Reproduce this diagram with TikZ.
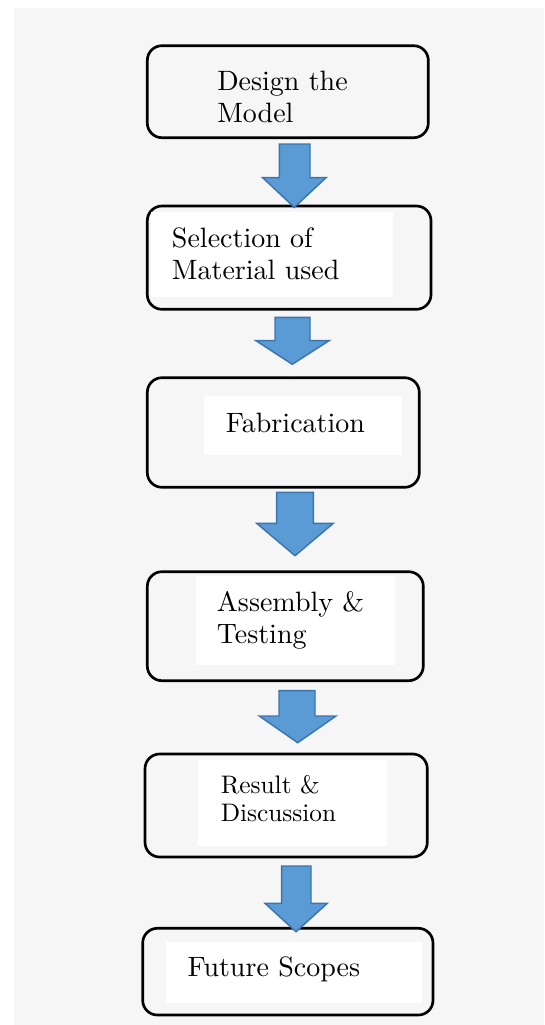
\documentclass[tikz,border=0pt]{standalone}
\usepackage{fontspec}
\setmainfont{lmroman10-regular}[Extension=.otf]
\usepackage{xcolor}
\usetikzlibrary{positioning}

\definecolor{pagegray}{RGB}{246,246,246}
\definecolor{arrowfill}{RGB}{91,155,213}
\definecolor{arrowline}{RGB}{58,117,176}

\tikzset{
  flowbox/.style={draw=black, line width=2pt, rounded corners=11pt},
  textpatch/.style={fill=white, draw=none},
  blockarrow/.style={fill=arrowfill, draw=arrowline, line width=1.1pt, line join=miter},
  steptext/.style={inner sep=0pt, align=left, anchor=base west, font={\fontsize{21}{24}\selectfont}},
  smalltext/.style={steptext, font={\fontsize{19}{21.3}\selectfont}}
}

\begin{document}
\begin{tikzpicture}[x=0.75pt,y=0.75pt,yscale=-1,xscale=1]
	\useasboundingbox (0,0) rectangle (544,1025);
	%Shape: Page background
	\fill[white] (0,0) rectangle (544,1025);
	\fill[pagegray] (14,8) rectangle (544,1025);
	
	%Rounded Rect [design]
	\draw[flowbox] (147.3,45.7) rectangle (428.3,137.7);
	%Rounded Rect [selection]
	\draw[flowbox] (147.3,206) rectangle (431,309.3);
	\fill[textpatch] (150.7,211.7) rectangle (393.3,296.7);
	%Rounded Rect [fabrication]
	\draw[flowbox] (147.3,377.7) rectangle (419.3,487.3);
	\fill[textpatch] (204,396) rectangle (401.7,455);
	%Rounded Rect [assembly]
	\draw[flowbox] (147.3,571.7) rectangle (423.3,680.7);
	\fill[textpatch] (196,576) rectangle (395,665);
	%Rounded Rect [result]
	\draw[flowbox] (145,754) rectangle (427.3,857);
	\fill[textpatch] (197.7,760) rectangle (387.3,846);
	%Rounded Rect [future]
	\draw[flowbox] (142.7,928.3) rectangle (433,1015);
	\fill[textpatch] (166,942.3) rectangle (422,1002.7);
	
	%Shape: Down Arrow
	\draw[blockarrow] (279.3,144) -- (310,144) -- (310,177.7) -- (326,177.7) -- (294.3,207.3) -- (262.7,177.7) -- (279.3,177.7) -- cycle;
	%Shape: Down Arrow
	\draw[blockarrow] (275,317.3) -- (310,317.3) -- (310,340.7) -- (329,340.7) -- (292.3,364.3) -- (256,340.7) -- (275,340.7) -- cycle;
	%Shape: Down Arrow
	\draw[blockarrow] (276.7,492.3) -- (313.3,492.3) -- (313.3,523.3) -- (333.3,523.3) -- (295,555.7) -- (256.7,523.3) -- (276.7,523.3) -- cycle;
	%Shape: Down Arrow
	\draw[blockarrow] (279,690.7) -- (315,690.7) -- (315,716) -- (336,716) -- (297.7,742.7) -- (259.3,716) -- (279,716) -- cycle;
	%Shape: Down Arrow
	\draw[blockarrow] (281.7,866) -- (311,866) -- (311,903.3) -- (327.3,903.3) -- (296,931.7) -- (265,903.3) -- (281.7,903.3) -- cycle;
	
	% Text Node (anchor is the last line's baseline)
	\node[steptext] (design) at (217,122) {Design the\\Model};
	% Text Node
	\node[steptext] (selection) at (171.7,279) {Selection of\\Material used};
	% Text Node
	\node[steptext] (fabrication) at (225.7,432.3) {Fabrication};
	% Text Node
	\node[steptext] (assembly) at (216.7,643.3) {Assembly \&\\Testing};
	% Text Node
	\node[smalltext] (result) at (220.5,821.7) {Result \&\\Discussion};
	% Text Node
	\node[steptext] (future) at (187.3,976.7) {Future Scopes};
	
\end{tikzpicture}
\end{document}
